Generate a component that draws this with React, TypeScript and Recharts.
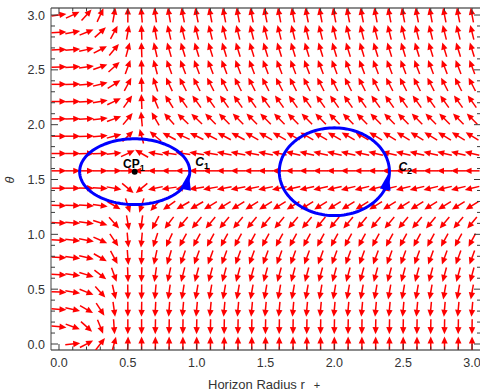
import { ScatterChart, Scatter, XAxis, YAxis, Label } from 'recharts'

const FONT = '"Liberation Sans", Arial, Helvetica, sans-serif'

// grid of the vector field: horizon radius r+ (columns) and theta (rows)
const R_VALUES = [
  0.0, 0.1, 0.2, 0.3, 0.4, 0.5, 0.6, 0.7, 0.8, 0.9, 1.0, 1.1, 1.2, 1.3, 1.4, 1.5,
  1.6, 1.7, 1.8, 1.9, 2.0, 2.1, 2.2, 2.3, 2.4, 2.5, 2.6, 2.7, 2.8, 2.9, 3.0,
]
const THETA_VALUES = [
  0, 0.158, 0.316, 0.474, 0.632, 0.789, 0.947, 1.105, 1.263, 1.421, 1.579, 1.737,
  1.895, 2.053, 2.211, 2.368, 2.526, 2.684, 2.842, 3.0,
]

// arrow direction (degrees, 0 = right, 90 = up) read row by row, bottom to top
const ROW_00 = [null, 5, 28, 52, 75, 88, 90, 90, 90, 90, 90, 90, 90, 90, 90, 90, 90, 90, 90, 90, 90, 90, 90, 90, 90, 90, 90, 90, 90, 90, 90]
const ROW_01 = [-6, -20, -42, -68, -86, -90, -90, -91, -91, -91, -91, -91, -91, -91, -91, -91, -91, -91, -91, -91, -91, -91, -91, -91, -91, -91, -91, -91, -91, -91, -91]
const ROW_02 = [-4, -12, -30, -57, -82, -90, -91, -93, -94, -95, -95, -95, -95, -95, -95, -95, -95, -95, -95, -95, -95, -95, -95, -95, -95, -95, -95, -95, -95, -95, -95]
const ROW_03 = [-3, -9, -22, -48, -77, -89, -91, -95, -98, -99, -100, -100, -100, -100, -100, -100, -100, -100, -100, -100, -100, -100, -100, -100, -100, -100, -100, -100, -100, -100, -100]
const ROW_04 = [-3, -8, -17, -38, -70, -88, -92, -98, -102, -104, -105, -105, -105, -105, -105, -105, -105, -105, -105, -105, -105, -105, -105, -105, -105, -105, -105, -105, -105, -105, -105]
const ROW_05 = [-3, -7, -13, -30, -62, -86, -93, -102, -107, -109, -110, -110, -110, -110, -110, -110, -110, -110, -110, -110, -110, -110, -110, -110, -110, -110, -110, -110, -110, -110, -110]
const ROW_06 = [-3, -6, -10, -24, -56, -85, -95, -108, -115, -118, -118, -118, -118, -118, -118, -118, -118, -118, -118, -118, -118, -118, -118, -118, -118, -118, -118, -118, -118, -118, -118]
const ROW_07 = [-2, -4, -8, -18, -48, -80, -98, -118, -127, -130, -130, -130, -130, -130, -130, -130, -130, -130, -130, -130, -130, -130, -130, -130, -130, -130, -130, -130, -130, -130, -130]
const ROW_08 = [-1, -2, -4, -8, -30, -72, -108, -132, -145, -150, -150, -149, -148, -148, -148, -148, -148, -148, -148, -148, -148, -148, -148, -148, -148, -148, -148, -148, -148, -148, -148]
const ROW_09 = [0, 0, -1, -3, -10, -40, -140, -168, -172, -172, -171, -170, -169, -169, -168, -168, -168, -167, -167, -167, -167, -166, -166, -166, -166, -166, -166, -166, -166, -166, -166]
const ROW_10 = [0, 0, 0, 0, 0, 0, 180, 180, 180, 180, 180, 180, 180, 180, 180, 180, 180, 180, 180, 180, 180, 180, 180, 180, 180, 180, 180, 180, 180, 180, 180]
const ROW_11 = [0, 0, 1, 2, 6, 25, 150, 170, 172, 172, 171, 170, 169, 169, 168, 168, 168, 167, 167, 167, 167, 166, 166, 166, 166, 166, 166, 166, 166, 166, 166]
const ROW_12 = [0, 0, 2, 5, 15, 45, 105, 140, 152, 155, 154, 153, 152, 152, 151, 151, 151, 150, 150, 150, 150, 150, 150, 149, 149, 149, 149, 149, 149, 149, 149]
const ROW_13 = [0, 1, 3, 7, 20, 50, 95, 120, 132, 136, 136, 135, 135, 135, 135, 135, 135, 135, 135, 135, 135, 135, 135, 135, 135, 135, 135, 135, 135, 135, 135]
const ROW_14 = [0, 1, 4, 10, 25, 55, 92, 113, 122, 125, 125, 125, 125, 125, 125, 125, 125, 125, 125, 125, 125, 125, 125, 125, 125, 125, 125, 125, 125, 125, 125]
const ROW_15 = [0, 2, 5, 14, 32, 62, 92, 108, 115, 117, 117, 117, 117, 117, 117, 117, 117, 117, 117, 117, 117, 117, 117, 117, 117, 117, 117, 117, 117, 117, 117]
const ROW_16 = [1, 3, 8, 20, 42, 70, 92, 105, 110, 111, 111, 111, 111, 111, 111, 111, 111, 111, 111, 111, 111, 111, 111, 111, 111, 111, 111, 111, 111, 111, 111]
const ROW_17 = [2, 5, 12, 28, 50, 75, 92, 103, 106, 107, 107, 107, 107, 107, 107, 107, 107, 107, 107, 107, 107, 107, 107, 107, 107, 107, 107, 107, 107, 107, 107]
const ROW_18 = [3, 10, 22, 42, 62, 80, 92, 100, 103, 104, 104, 104, 104, 104, 104, 104, 104, 104, 104, 104, 104, 104, 104, 104, 104, 104, 104, 104, 104, 104, 104]
const ROW_19 = [8, 25, 48, 65, 80, 90, 95, 98, 100, 101, 101, 101, 101, 101, 101, 101, 101, 101, 101, 101, 101, 101, 101, 101, 101, 101, 101, 101, 101, 101, 101]
const DIRECTIONS = [
  ROW_00, ROW_01, ROW_02, ROW_03, ROW_04, ROW_05, ROW_06, ROW_07, ROW_08, ROW_09,
  ROW_10, ROW_11, ROW_12, ROW_13, ROW_14, ROW_15, ROW_16, ROW_17, ROW_18, ROW_19,
]

// closed curves C1, C2 around the critical points
const CURVES = [
  { cx: 0.55, cy: 1.571, rx: 0.4, ry: 0.3 },
  { cx: 2.0, cy: 1.571, rx: 0.4, ry: 0.4 },
]
const CURVE_HEADS = [
  { x: 0.944, y: 1.56, a: 78 },
  { x: 2.395, y: 1.56, a: 78 },
]
const CRITICAL_POINT = [{ x: 0.55, y: 1.571 }]
const TAGS = [
  { x: 0.465, y: 1.605, main: 'CP', sub: '1', italic: false },
  { x: 0.99, y: 1.625, main: 'C', sub: '1', italic: true },
  { x: 2.465, y: 1.58, main: 'C', sub: '2', italic: true },
]

const X_TICKS = R_VALUES
const X_LABELS = ['0.0', '0.5', '1.0', '1.5', '2.0', '2.5', '3.0']
const Y_TICKS = [
  0.0, 0.1, 0.2, 0.3, 0.4, 0.5, 0.6, 0.7, 0.8, 0.9, 1.0, 1.1, 1.2, 1.3, 1.4, 1.5,
  1.6, 1.7, 1.8, 1.9, 2.0, 2.1, 2.2, 2.3, 2.4, 2.5, 2.6, 2.7, 2.8, 2.9, 3.0,
]
const Y_LABELS = ['0.0', '0.5', '1.0', '1.5', '2.0', '2.5', '3.0']

const vectors = THETA_VALUES.flatMap((y, j) =>
  R_VALUES.map((x, i) => ({ x, y, a: DIRECTIONS[j][i] }))
).filter(p => p.a !== null)

const curveData = CURVES.map(c =>
  Array.from({ length: 145 }, (_, k) => {
    const t = (2 * Math.PI * k) / 144
    return { x: c.cx + c.rx * Math.cos(t), y: c.cy + c.ry * Math.sin(t) }
  })
)

const majorIndex = (v: number) => {
  const k = Math.round(v * 2)
  return Math.abs(v * 2 - k) < 1e-6 ? k : -1
}

const TICK_COLOR = '#3a3a3a'
const TICK_FONT = 12.5

function BottomTick({ x, y, payload }: any) {
  const k = majorIndex(payload.value)
  return (
    <g>
      <line x1={x} y1={y} x2={x} y2={y - (k >= 0 ? 6 : 3.5)} stroke={TICK_COLOR} strokeWidth={1} />
      {k >= 0 && (
        <text x={x} y={y + 16.5} textAnchor="middle" fontSize={TICK_FONT} fill="#333" fontFamily={FONT}>
          {X_LABELS[k]}
        </text>
      )}
    </g>
  )
}

function TopTick({ x, y, payload }: any) {
  const k = majorIndex(payload.value)
  return <line x1={x} y1={y} x2={x} y2={y + (k >= 0 ? 6 : 3.5)} stroke={TICK_COLOR} strokeWidth={1} />
}

function LeftTick({ x, y, payload }: any) {
  const k = majorIndex(payload.value)
  return (
    <g>
      <line x1={x} y1={y} x2={x + (k >= 0 ? 7 : 4)} y2={y} stroke={TICK_COLOR} strokeWidth={1} />
      {k >= 0 && (
        <text x={x - 6} y={y + 4.5} textAnchor="end" fontSize={TICK_FONT} fill="#333" fontFamily={FONT}>
          {Y_LABELS[k]}
        </text>
      )}
    </g>
  )
}

function RightTick({ x, y, payload }: any) {
  const k = majorIndex(payload.value)
  return <line x1={x} y1={y} x2={x - (k >= 0 ? 7 : 4)} y2={y} stroke={TICK_COLOR} strokeWidth={1} />
}

const ARROW_LEN = 15
const HEAD_LEN = 7
const HEAD_HALF = 3.2

function FieldArrow({ cx, cy, payload }: any) {
  if (cx == null || cy == null) return <g />
  const t = (payload.a * Math.PI) / 180
  const ux = Math.cos(t)
  const uy = -Math.sin(t)
  const h = ARROW_LEN / 2
  const tx = cx + ux * h
  const ty = cy + uy * h
  const bx = tx - ux * HEAD_LEN
  const by = ty - uy * HEAD_LEN
  return (
    <g>
      <line x1={cx - ux * h} y1={cy - uy * h} x2={bx + ux} y2={by + uy} stroke="#ff0000" strokeWidth={1.5} />
      <polygon
        points={`${tx},${ty} ${bx - uy * HEAD_HALF},${by + ux * HEAD_HALF} ${bx + uy * HEAD_HALF},${by - ux * HEAD_HALF}`}
        fill="#ff0000"
      />
    </g>
  )
}

function CurveHead({ cx, cy, payload }: any) {
  const t = (payload.a * Math.PI) / 180
  const ux = Math.cos(t)
  const uy = -Math.sin(t)
  const bx = cx - ux * 17
  const by = cy - uy * 17
  return (
    <polygon
      points={`${cx},${cy} ${bx - uy * 5.5},${by + ux * 5.5} ${bx + uy * 5.5},${by - ux * 5.5}`}
      fill="#0000ff"
    />
  )
}

function Dot({ cx, cy }: any) {
  return <circle cx={cx} cy={cy} r={3} fill="#000" />
}

function Tag({ cx, cy, payload }: any) {
  return (
    <text
      x={cx}
      y={cy}
      fontSize={12}
      fontFamily={FONT}
      fontWeight="bold"
      fill="#000"
      fontStyle={payload.italic ? 'italic' : 'normal'}
    >
      {payload.main}
      <tspan dy={3} fontSize={9} fontStyle="normal">{payload.sub}</tspan>
    </text>
  )
}

const Empty = () => <g />

export default function App() {
  return (
    <div style={{ position: 'absolute', left: 0, top: 0, width: 480, height: 391, overflow: 'hidden', background: '#fff' }}>
      <ScatterChart width={482} height={391} margin={{ top: 0, right: 0, bottom: 0, left: 0 }}>
        <XAxis
          xAxisId="b"
          type="number"
          dataKey="x"
          domain={[-0.058, 3.065]}
          allowDataOverflow
          ticks={X_TICKS}
          interval={0}
          tickSize={0}
          tickMargin={0}
          tick={<BottomTick />}
          height={41}
          axisLine={{ stroke: '#8c8c8c', strokeWidth: 2 }}
        >
          <Label
            content={({ viewBox }: any) => (
              <text x={viewBox.x + 157} y={viewBox.y + 39} fontSize={13} fontFamily={FONT} fill="#333">
                Horizon Radius r<tspan dx={9} fontSize={11}>+</tspan>
              </text>
            )}
          />
        </XAxis>
        <XAxis
          xAxisId="t"
          orientation="top"
          type="number"
          dataKey="x"
          domain={[-0.058, 3.065]}
          allowDataOverflow
          ticks={X_TICKS}
          interval={0}
          tickSize={0}
          tickMargin={0}
          tick={<TopTick />}
          height={8}
          axisLine={{ stroke: '#8c8c8c', strokeWidth: 2 }}
        />
        <YAxis
          yAxisId="l"
          type="number"
          dataKey="y"
          domain={[-0.0547, 3.064]}
          allowDataOverflow
          ticks={Y_TICKS}
          interval={0}
          tickSize={0}
          tickMargin={0}
          tick={<LeftTick />}
          width={51}
          axisLine={{ stroke: '#444', strokeWidth: 1 }}
        >
          <Label
            content={() => (
              <text
                x={14}
                y={180}
                transform="rotate(-90 14 180)"
                textAnchor="middle"
                fontSize={12.5}
                fontStyle="italic"
                fontFamily={FONT}
                fill="#333"
              >
                θ
              </text>
            )}
          />
        </YAxis>
        <YAxis
          yAxisId="r"
          orientation="right"
          type="number"
          dataKey="y"
          domain={[-0.0547, 3.064]}
          allowDataOverflow
          ticks={Y_TICKS}
          interval={0}
          tickSize={0}
          tickMargin={0}
          tick={<RightTick />}
          width={1}
          axisLine={{ stroke: '#8c8c8c', strokeWidth: 2 }}
        />
        <Scatter xAxisId="t" yAxisId="r" data={CRITICAL_POINT} shape={Empty} isAnimationActive={false} />
        <Scatter xAxisId="b" yAxisId="l" data={vectors} shape={FieldArrow} isAnimationActive={false} />
        {curveData.map((pts, i) => (
          <Scatter
            key={i}
            xAxisId="b"
            yAxisId="l"
            data={pts}
            shape={Empty}
            line={{ stroke: '#0000ff', strokeWidth: 3 }}
            isAnimationActive={false}
          />
        ))}
        <Scatter xAxisId="b" yAxisId="l" data={CURVE_HEADS} shape={CurveHead} isAnimationActive={false} />
        <Scatter xAxisId="b" yAxisId="l" data={CRITICAL_POINT} shape={Dot} isAnimationActive={false} />
        <Scatter xAxisId="b" yAxisId="l" data={TAGS} shape={Tag} isAnimationActive={false} />
      </ScatterChart>
    </div>
  )
}
